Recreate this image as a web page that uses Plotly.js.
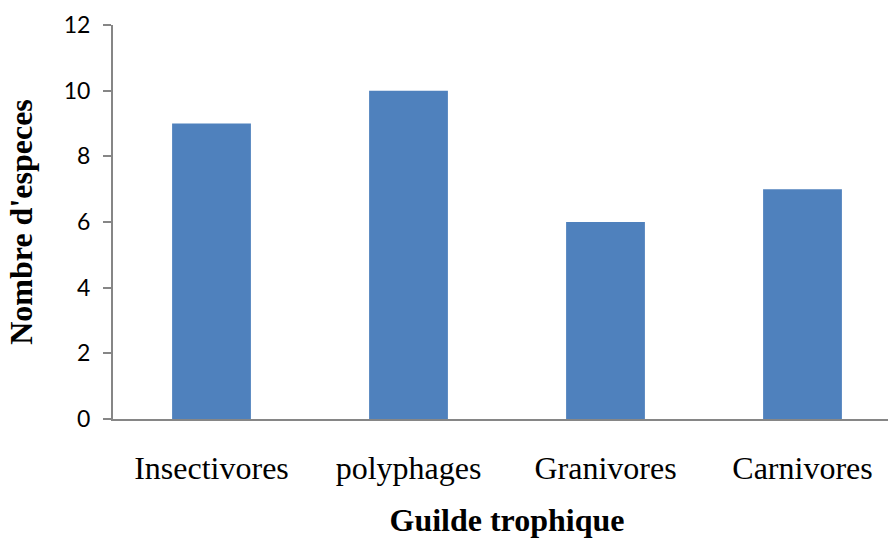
<!DOCTYPE html>
<html>
<head>
<meta charset="utf-8">
<script src="https://cdn.plot.ly/plotly-3.0.1.min.js"></script>
<style>
html, body { margin: 0; padding: 0; overflow: hidden; background: #fff; }
#chart { width: 901px; height: 538px; }
</style>
</head>
<body>
<div id="chart"></div>
<script>
const categories = ["Insectivores", "polyphages", "Granivores", "Carnivores"];
const values = [9, 10, 6, 7];
const yTicks = [0, 2, 4, 6, 8, 10, 12];
const xTitle = "Guilde trophique";
const yTitle = "Nombre d'especes";

const trace = {
  type: "bar",
  x: categories,
  y: values,
  marker: { color: "#4F81BD" },
  hoverinfo: "x+y"
};

const layout = {
  width: 901,
  height: 538,
  margin: { l: 113, r: 0, t: 25, b: 119, pad: 0 },
  paper_bgcolor: "#ffffff",
  plot_bgcolor: "#ffffff",
  bargap: 0.6,
  showlegend: false,
  xaxis: {
    type: "category",
    showline: true,
    linecolor: "#868686",
    linewidth: 2,
    ticks: "",
    showgrid: false,
    zeroline: false,
    ticklabelstandoff: 20,
    tickfont: { family: "Liberation Serif, Times New Roman, serif", size: 32, color: "#000" },
    title: {
      text: "<b>" + xTitle + "</b>",
      font: { family: "Liberation Serif, Times New Roman, serif", size: 32, color: "#000" },
      standoff: 25
    },
    automargin: false
  },
  yaxis: {
    range: [0, 12],
    tickvals: yTicks,
    ticktext: yTicks.map(String),
    showline: true,
    linecolor: "#868686",
    linewidth: 2,
    ticks: "outside",
    ticklen: 8,
    tickwidth: 2,
    tickcolor: "#868686",
    showgrid: false,
    zeroline: false,
    ticklabelstandoff: 8,
    tickfont: { family: "Lato, Open Sans, sans-serif", size: 23, color: "#000" },
    title: {
      text: "<b>" + yTitle + "</b>",
      font: { family: "Liberation Serif, Times New Roman, serif", size: 32, color: "#000" },
      standoff: 22
    },
    automargin: false
  }
};

Plotly.newPlot("chart", [trace], layout, { displayModeBar: false, staticPlot: true });
</script>
</body>
</html>
